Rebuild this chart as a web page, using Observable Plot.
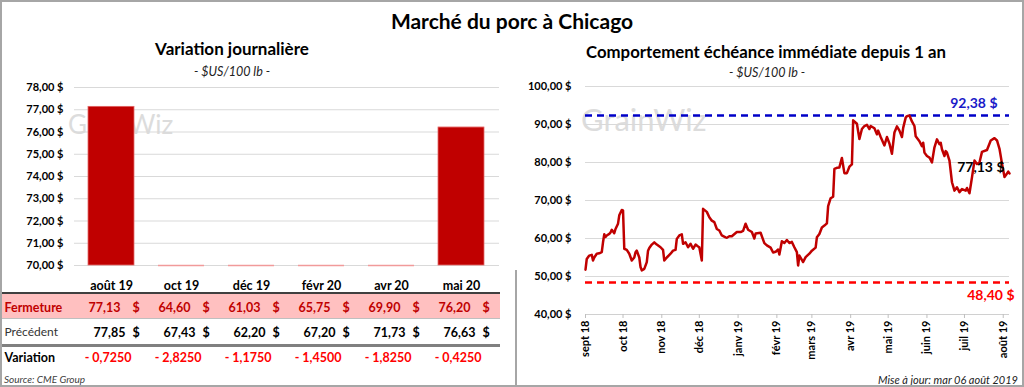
<!DOCTYPE html>
<html><head><meta charset="utf-8">
<script src="https://cdn.jsdelivr.net/npm/d3@7"></script>
<script src="https://cdn.jsdelivr.net/npm/@observablehq/plot@0.6"></script>
<style>
body{margin:0;background:#fff;font-family:Lato,"Open Sans",sans-serif;}
#wrap{position:relative;width:1024px;height:387px;overflow:hidden;background:#fff;}
.abs{position:absolute;white-space:nowrap;line-height:1;}
svg{position:absolute;}
</style></head><body><div id="wrap"></div>
<script>
// ---------- data ----------
const contracts = ["août 19","oct 19","déc 19","févr 20","avr 20","mai 20"];
const closes    = [77.13, 64.60, 61.03, 65.75, 69.90, 76.20];
const previous  = [77.85, 67.43, 62.20, 67.20, 71.73, 76.63];
const changes   = [-0.7250, -2.8250, -1.1750, -1.4500, -1.8250, -0.4250];
const rowNames  = ["Fermeture", "Précédent", "Variation"];
const leftTicks  = [70, 71, 72, 73, 74, 75, 76, 77, 78];
const rightTicks = [40, 50, 60, 70, 80, 90, 100];
const monthNames = ["janv","févr","mars","avr","mai","juin","juil","août","sept","oct","nov","déc"];
const high52 = 92.38;
const low52  = 48.40;
const dates = ["2018-09-01","2018-09-02","2018-09-04","2018-09-06","2018-09-07","2018-09-08","2018-09-10","2018-09-12","2018-09-14","2018-09-15","2018-09-16","2018-09-17","2018-09-18","2018-09-20","2018-09-21","2018-09-22","2018-09-24","2018-09-25","2018-09-27","2018-09-28","2018-09-30",
"2018-10-01","2018-10-02","2018-10-04","2018-10-06","2018-10-08","2018-10-10","2018-10-11","2018-10-12","2018-10-14","2018-10-15","2018-10-16","2018-10-18","2018-10-20","2018-10-21","2018-10-22","2018-10-24","2018-10-26","2018-10-28","2018-10-31",
"2018-11-02","2018-11-03","2018-11-05","2018-11-08","2018-11-10","2018-11-12","2018-11-13","2018-11-15","2018-11-17","2018-11-18","2018-11-20","2018-11-22","2018-11-24","2018-11-26","2018-11-28","2018-11-30",
"2018-12-01","2018-12-03","2018-12-04","2018-12-07","2018-12-09","2018-12-11","2018-12-13","2018-12-15","2018-12-17","2018-12-19","2018-12-22","2018-12-23","2018-12-25","2018-12-27","2018-12-31",
"2019-01-03","2019-01-05","2019-01-07","2019-01-09","2019-01-12","2019-01-14","2019-01-15","2019-01-19","2019-01-22","2019-01-24","2019-01-27","2019-01-29","2019-01-31",
"2019-02-02","2019-02-03","2019-02-05","2019-02-07","2019-02-09","2019-02-11","2019-02-13","2019-02-15","2019-02-17","2019-02-18","2019-02-19","2019-02-21","2019-02-22","2019-02-24","2019-02-27",
"2019-03-01","2019-03-04","2019-03-05","2019-03-07","2019-03-09","2019-03-11","2019-03-13","2019-03-14","2019-03-16","2019-03-18","2019-03-19","2019-03-21","2019-03-23","2019-03-25","2019-03-27","2019-03-29","2019-03-31",
"2019-04-02","2019-04-03","2019-04-06","2019-04-08","2019-04-10","2019-04-12","2019-04-14","2019-04-16","2019-04-17","2019-04-20","2019-04-22","2019-04-23","2019-04-25","2019-04-28","2019-04-30",
"2019-05-02","2019-05-04","2019-05-06","2019-05-08","2019-05-10","2019-05-12","2019-05-13","2019-05-15","2019-05-16","2019-05-18","2019-05-20","2019-05-22","2019-05-23","2019-05-26","2019-05-28","2019-05-29","2019-05-30",
"2019-06-01","2019-06-03","2019-06-05","2019-06-07","2019-06-09","2019-06-11","2019-06-12","2019-06-13","2019-06-15","2019-06-16","2019-06-17","2019-06-19","2019-06-21","2019-06-23","2019-06-25","2019-06-27","2019-06-29",
"2019-07-02","2019-07-03","2019-07-05","2019-07-07","2019-07-09","2019-07-11","2019-07-13","2019-07-15","2019-07-19","2019-07-22","2019-07-25","2019-07-27","2019-07-29","2019-07-31",
"2019-08-02","2019-08-04","2019-08-05","2019-08-06"];
const prices = [51.8,54.6,55.5,55.7,54.2,55.0,56.0,56.1,56.4,59.0,61.1,60.4,60.8,61.2,61.6,62.3,61.4,62.5,63.9,66.1,67.5,
67.4,57.3,57.0,56.0,54.2,55.0,56.4,56.8,55.0,52.5,51.6,52.0,53.8,56.8,57.5,58.4,59.0,58.4,57.7,
57.0,54.2,55.0,56.0,56.8,57.0,59.9,60.8,61.1,58.6,59.0,57.7,58.6,57.3,58.4,57.9,
57.7,54.2,67.8,67.0,65.6,64.7,64.3,62.5,62.1,60.8,60.3,60.2,60.6,60.6,61.7,
61.7,62.0,63.9,62.3,61.7,60.0,61.3,61.5,58.8,58.2,57.6,56.3,56.5,
57.1,55.8,59.3,58.8,59.6,58.8,59.1,57.7,56.4,52.9,55.5,54.4,53.8,55.1,56.0,
56.8,57.6,60.3,61.2,62.9,63.4,64.0,68.5,70.6,71.0,78.3,78.6,78.7,81.2,77.2,77.2,78.9,
79.5,91.1,90.2,86.2,88.8,89.6,89.9,88.8,89.6,89.0,87.4,88.4,86.7,84.5,86.7,
85.0,82.3,87.9,89.5,88.4,86.7,89.1,91.8,92.2,92.38,90.8,89.6,86.9,85.6,84.3,85.2,82.6,
81.7,81.3,80.0,84.0,86.1,84.8,85.2,83.5,81.7,83.0,82.6,80.5,74.8,72.6,73.5,72.2,73.0,
72.6,73.3,71.9,76.1,80.5,79.6,80.0,82.8,83.3,85.8,86.4,85.8,83.6,79.7,
76.2,77.1,77.6,77.13];

// ---------- helpers ----------
const W = 1024;
const wrap = document.getElementById("wrap");
const FONT = "Lato, 'Open Sans', sans-serif";
const money = v => v.toFixed(2).replace(".", ",") + " $";
const num2 = v => v.toFixed(2).replace(".", ",");
const num4 = v => (v < 0 ? "- " : "") + Math.abs(v).toFixed(4).replace(".", ",");
function put(text, x, y, o = {}) {
  const el = document.createElement("div");
  el.className = "abs";
  el.textContent = text;
  const a = o.anchor || "middle";
  if (a === "end") {
    el.style.right = (W - x) + "px";
    el.style.transform = "translateY(-50%)";
  } else if (a === "start") {
    el.style.left = x + "px";
    el.style.transform = "translateY(-50%)";
  } else {
    el.style.left = x + "px";
    el.style.transform = "translate(-50%,-50%)";
  }
  el.style.top = y + "px";
  el.style.fontSize = (o.size || 12) + "px";
  el.style.fontFamily = FONT;
  if (o.weight) el.style.fontWeight = o.weight;
  if (o.italic) el.style.fontStyle = "italic";
  el.style.color = o.color || "#000";
  wrap.appendChild(el);
  return el;
}
function box(x, y, w, h, color) {
  const el = document.createElement("div");
  el.className = "abs";
  Object.assign(el.style, {left: x + "px", top: y + "px", width: w + "px", height: h + "px", background: color});
  wrap.appendChild(el);
  return el;
}

// ---------- watermarks (behind charts) ----------
put("GrainWiz", 68, 124, {anchor: "start", size: 26, color: "#dcdcdc"});
put("GrainWiz", 581, 119, {anchor: "start", size: 31, color: "#dcdcdc"});

// ---------- table backgrounds and rules ----------
box(0, 294, 500, 24, "#FFC0C0");
box(0, 292, 500, 2, "#404040");
box(0, 318, 500, 1, "#bfbfbf");
box(0, 344, 500, 2.5, "#808080");

// ---------- left chart: bars ----------
const xBand = {domain: contracts, paddingInner: 0.34, paddingOuter: 0.17};
const bars = contracts.map((c, i) => ({contract: c, close: closes[i]}));
const left = Plot.plot({
  width: 510, height: 217,
  marginLeft: 74, marginRight: 11, marginTop: 9, marginBottom: 30,
  style: {fontFamily: FONT, background: "transparent", color: "#000", overflow: "visible"},
  x: xBand,
  y: {domain: [70, 78], clamp: true},
  marks: [
    Plot.gridY(leftTicks, {stroke: "#d9d9d9", strokeOpacity: 1}),
    Plot.axisY(leftTicks, {tickSize: 0, tickPadding: 11, tickFormat: money, fontSize: 11, fontWeight: "bold", label: null}),
    Plot.axisX({tickSize: 0, tickPadding: 16, fontSize: 12.5, fontWeight: "bold", label: null}),
    Plot.tickY(bars, {x: "contract", y: "close", stroke: "#f19a9a", strokeWidth: 1.5}),
    Plot.barY(bars, {x: "contract", y: "close", fill: "#C00000", stroke: "#e46c6c", strokeWidth: 0.8})
  ]
});
left.style.left = "0px"; left.style.top = "78px";
wrap.appendChild(left);

// ---------- table (same band scale as the bars) ----------
const cells = contracts.map((c, i) => ({contract: c, close: closes[i], prev: previous[i], change: changes[i]}));
const cellFont = {fontSize: 12.5, fontWeight: "bold"};
const rowLabel = {frameAnchor: "left", textAnchor: "start", dx: -70, fontSize: 12.5};
const table = Plot.plot({
  width: 510, height: 80,
  marginLeft: 74, marginRight: 11, marginTop: 0, marginBottom: 0,
  style: {fontFamily: FONT, background: "transparent", color: "#000", overflow: "visible"},
  x: {...xBand, axis: null},
  y: {type: "point", domain: rowNames, range: [16, 67], padding: 0, axis: null},
  marks: [
    Plot.text([rowNames[0]], {y: d => d, text: d => d, ...rowLabel, fill: "#C00000", fontWeight: "bold"}),
    Plot.text([rowNames[1]], {y: d => d, text: d => d, ...rowLabel, fill: "#333", fontWeight: "normal", fontSize: 12}),
    Plot.text([rowNames[2]], {y: d => d, text: d => d, ...rowLabel, fill: "#000", fontWeight: "bold"}),
    Plot.text(cells, {x: "contract", y: () => "Fermeture", text: d => num2(d.close), textAnchor: "end", dx: 8, fill: "#C00000", ...cellFont}),
    Plot.text(cells, {x: "contract", y: () => "Fermeture", text: () => "$", textAnchor: "start", dx: 20, fill: "#C00000", ...cellFont}),
    Plot.text(cells, {x: "contract", y: () => "Précédent", text: d => num2(d.prev), textAnchor: "end", dx: 13, fill: "#000", ...cellFont}),
    Plot.text(cells, {x: "contract", y: () => "Précédent", text: () => "$", textAnchor: "start", dx: 20, fill: "#000", ...cellFont}),
    Plot.text(cells, {x: "contract", y: () => "Variation", text: d => num4(d.change), textAnchor: "end", dx: 19, fill: "#FF0000", ...cellFont})
  ]
});
table.style.left = "0px"; table.style.top = "290px";
wrap.appendChild(table);

// ---------- right chart: line ----------
const series = dates.map((d, i) => ({date: new Date(d), price: prices[i]}));
const xDomain = [new Date("2018-09-01"), new Date("2019-08-06")];
const monthTicks = d3.utcMonths(xDomain[0], xDomain[1]);
const monthLabel = d => monthNames[d.getUTCMonth()] + " " + String(d.getUTCFullYear()).slice(2);
const right = Plot.plot({
  width: 512, height: 300,
  marginLeft: 73, marginRight: 15, marginTop: 8, marginBottom: 64,
  style: {fontFamily: FONT, background: "transparent", color: "#000", overflow: "visible"},
  x: {type: "utc", domain: xDomain},
  y: {domain: [40, 100]},
  marks: [
    Plot.gridY(rightTicks, {stroke: "#d9d9d9", strokeOpacity: 1}),
    Plot.axisY(rightTicks, {tickSize: 0, tickPadding: 14, tickFormat: money, fontSize: 11, fontWeight: "bold", label: null}),
    Plot.ruleY([40], {stroke: "#d0d0d0"}),
    Plot.axisX(monthTicks, {tickRotate: -90, tickSize: 4, tickPadding: 2, tickFormat: monthLabel, fontSize: 11, fontWeight: "bold", stroke: "#bfbfbf", fill: "#000", label: null}),
    Plot.ruleY([high52], {stroke: "#0000C8", strokeWidth: 2.5, strokeDasharray: "7,5"}),
    Plot.ruleY([low52], {stroke: "#FF0000", strokeWidth: 2.5, strokeDasharray: "7,5"}),
    Plot.line(series, {x: "date", y: "price", stroke: "#C00000", strokeWidth: 2.5}),
    Plot.text([high52], {y: d => d, frameAnchor: "right", text: money, textAnchor: "end", dx: -12, dy: -12, fill: "#1a1ac8", fontWeight: "bold", fontSize: 14}),
    Plot.text([low52], {y: d => d, frameAnchor: "right", text: money, textAnchor: "end", dx: 5, dy: 13, fill: "#FF0000", fontWeight: "bold", fontSize: 14}),
    Plot.text(series, Plot.selectLast({x: "date", y: "price", text: d => money(d.price), textAnchor: "end", dx: -5, dy: -6, fill: "#000", fontWeight: "bold", fontSize: 14}))
  ]
});
right.style.left = "512px"; right.style.top = "78px";
wrap.appendChild(right);

// ---------- titles ----------
put("Marché du porc à Chicago", 512, 20, {size: 21, weight: "bold"});
put("Variation journalière", 232, 48, {size: 17, weight: "bold"});
put("- $US/100 lb -", 232, 72, {size: 12.5, italic: true, color: "#222"});
put("Comportement échéance immédiate depuis 1 an", 766, 52, {size: 16.8, weight: "bold"});
put("- $US/100 lb -", 767, 73, {size: 12.5, italic: true, color: "#222"});
put("Source: CME Group", 4, 379, {anchor: "start", size: 10, italic: true, color: "#404040"});
put("Mise à jour: mar 06 août 2019", 1018, 379, {anchor: "end", size: 11, italic: true, color: "#222"});

// ---------- frame ----------
box(515, 270, 1.5, 117, "#a6a6a6");
const frame = document.createElement("div");
frame.className = "abs";
Object.assign(frame.style, {left: "0px", top: "0px", width: "1024px", height: "387px", boxSizing: "border-box", border: "2px solid #a6a6a6"});
wrap.appendChild(frame);
</script></body></html>
